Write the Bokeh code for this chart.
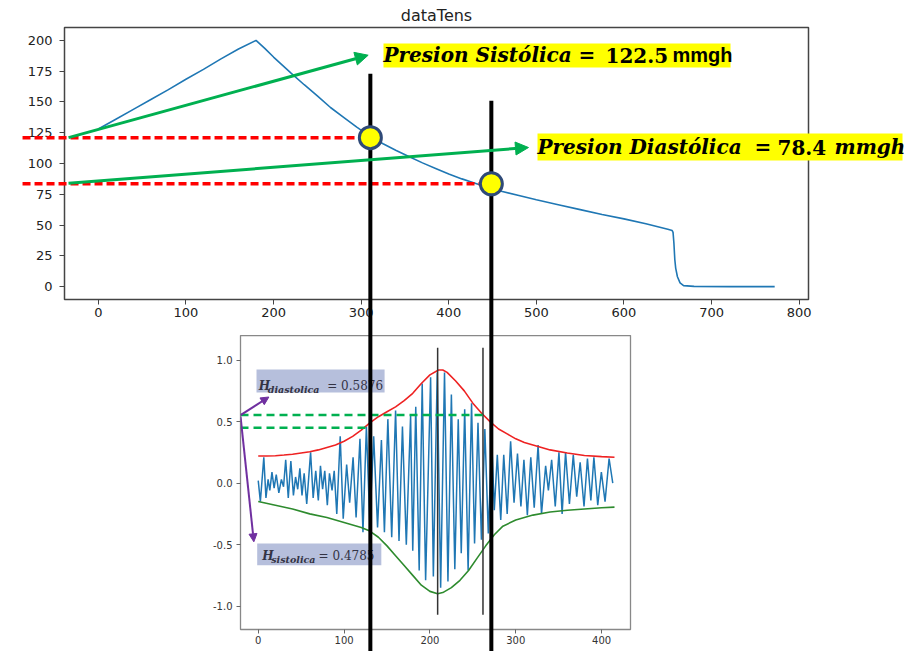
from bokeh.plotting import figure
from bokeh.models import (Range1d, FixedTicker, Arrow, NormalHead, Label, BoxAnnotation,
                          PrintfTickFormatter)
from bokeh.layouts import column
from bokeh.embed import file_html
from bokeh.resources import INLINE

# ---------------- top chart data (cuff pressure, mmHg) ----------------
pres_x = [0, 20, 40, 60, 80, 100, 120, 140, 160, 180, 190, 200, 210, 220, 235, 250, 265, 280,
          295, 310, 325, 340, 355, 370, 385, 400, 415, 430, 445, 460, 480, 500, 525, 550, 575,
          600, 625, 650, 655, 656, 657, 658, 659, 661, 664, 668, 680, 720, 772]
pres_y = [128, 136, 144, 152, 160, 168.5, 176.5, 185, 193, 200, 193.5, 186.5, 180, 173.5, 164,
          155, 145.5, 137.5, 129.5, 122, 116, 110.5, 105.5, 100.5, 96, 91.5, 87.5, 84, 80.5,
          77.5, 74, 70.5, 66.5, 62.5, 58.5, 55, 51, 46.5, 45.5, 44, 35, 22, 15, 8, 3, 0.8,
          0.2, 0, 0]
top_xticks = [0, 100, 200, 300, 400, 500, 600, 700, 800]
top_yticks = [0, 25, 50, 75, 100, 125, 150, 175, 200]

# annotation values (top chart units)
sys_pt = (310.5, 121.0)
dia_pt = (448.6, 83.5)
sys_text = ["Presion Sistólica", "=", "122.5", "mmgh"]
dia_text = ["Presion Diastólica", "=", "78.4", "mmgh"]

# ---------------- bottom chart data (oscillation signal) ----------------
sig_x = [0, 2.5, 6.5, 9, 11.5, 13.5, 16, 18.5, 21, 24, 27, 29.5, 32, 35, 38, 41, 43.5, 46,
         48.5, 51, 53.5, 56.5, 61, 64, 67, 70, 72.5, 75, 77.5, 80.5, 83, 86, 88.5, 91.5, 95.5,
         99, 103, 106.5, 110.5, 114, 118.5, 122, 126, 130, 134.5, 139, 143.5, 147, 151, 155.5,
         160, 164, 168, 172.5, 177.5, 180, 183.5, 187.5, 191, 195, 200.8, 204, 208.5, 212.5,
         217, 221, 225, 229, 233, 236.5, 240.5, 244.5, 248.5, 252, 256, 260, 264, 268, 272,
         275, 278.5, 282.5, 286, 290, 294, 298, 302, 306, 309.5, 313.5, 317.5, 321.5, 326, 330,
         334.8, 338, 341.8, 346, 350.3, 354, 358, 362.5, 367, 371, 375, 379.5, 383.5, 387.5,
         391, 395.5, 399.7, 404, 408.7, 413]
sig_y = [0.02, -0.15, 0.21, -0.12, 0.03, -0.06, 0.09, -0.04, 0.07, -0.08, 0.03, -0.03, 0.19,
         -0.12, 0.18, -0.10, 0.05, -0.05, 0.12, -0.10, 0.08, -0.17, 0.25, -0.12, 0.10, -0.14,
         0.14, -0.05, 0.10, -0.18, 0.08, -0.06, 0.10, -0.25, 0.38, -0.29, 0.15, -0.16, 0.21,
         -0.28, 0.36, -0.40, 0.46, -0.33, 0.38, -0.36, 0.35, -0.40, 0.52, -0.44, 0.59, -0.47,
         0.46, -0.50, 0.55, -0.55, 0.62, -0.71, 0.81, -0.79, 0.86, -0.76, 0.90, -0.85, 0.90,
         -0.80, 0.72, -0.70, 0.52, -0.57, 0.60, -0.71, 0.65, -0.49, 0.49, -0.46, 0.44, -0.41,
         0.35, -0.22, 0.23, -0.30, 0.23, -0.25, 0.34, -0.16, 0.24, -0.19, 0.19, -0.26, 0.21,
         -0.20, 0.31, -0.25, 0.14, -0.06, 0.19, -0.19, 0.25, -0.25, 0.25, -0.17, 0.23, -0.11,
         0.17, -0.19, 0.20, -0.14, 0.21, -0.18, 0.09, -0.15, 0.20, 0.0]
env_up_x = [0, 10, 20, 30, 40, 50, 60, 70, 80, 90, 100, 110, 120, 130, 140, 150, 160, 170, 180,
            190, 200, 210, 215, 220, 230, 240, 250, 260, 270, 280, 290, 300, 310, 320, 340,
            360, 380, 400, 415]
env_up_y = [0.22, 0.22, 0.222, 0.228, 0.235, 0.245, 0.255, 0.27, 0.29, 0.31, 0.34, 0.38, 0.43,
            0.49, 0.54, 0.58, 0.62, 0.67, 0.73, 0.81, 0.88, 0.92, 0.92, 0.90, 0.83, 0.75, 0.65,
            0.57, 0.50, 0.44, 0.40, 0.36, 0.33, 0.31, 0.27, 0.245, 0.225, 0.215, 0.21]
env_lo_x = [0, 20, 40, 60, 80, 100, 120, 130, 140, 150, 160, 170, 180, 190, 200, 209, 215, 225,
            235, 245, 255, 265, 275, 285, 300, 320, 340, 360, 380, 400, 415]
env_lo_y = [-0.15, -0.18, -0.21, -0.25, -0.28, -0.32, -0.36, -0.39, -0.44, -0.51, -0.59, -0.67,
            -0.75, -0.83, -0.88, -0.90, -0.89, -0.85, -0.79, -0.71, -0.61, -0.51, -0.42, -0.35,
            -0.30, -0.26, -0.235, -0.22, -0.21, -0.20, -0.195]
bot_xticks = [0, 100, 200, 300, 400]
bot_yticks = [-1.0, -0.5, 0.0, 0.5, 1.0]
peak_marks_x = [209, 261.8]
h_dia = 0.553
h_sis = 0.45
h_dia_end = 262
h_sis_end = 127
h_dia_text = ["H", "diastolica", "= 0.5876"]
h_sis_text = ["H", "sistolica", "= 0.4785"]

GREEN = "#00b050"
RED = "#ff0000"
PURPLE = "#7030a0"
YELLOW = "#ffff00"
SERIF = "DejaVu Serif"

# ---------------- layout geometry ----------------
W, H = 911, 651
TOP_H = 335
TL, TR, TT, TB = 64, 103, 27, 36
top_xr = (-38.6, 810.6)
top_yr = (-10.5, 210.5)

# ====================== top figure ======================
top = figure(width=W, height=TOP_H, x_range=Range1d(*top_xr), y_range=Range1d(*top_yr),
             output_backend="svg", toolbar_location=None, min_border_left=TL,
             min_border_right=TR, min_border_top=TT, min_border_bottom=TB, frame_align=False)
top.title.text = "dataTens"
top.title.align = "center"
top.title.text_font = "DejaVu Sans"
top.title.text_font_style = "normal"
top.title.text_font_size = "16px"
top.title.text_color = "#222222"
top.title.standoff = 5
top.grid.visible = False
top.outline_line_color = "#444444"
top.outline_line_width = 1.5
top.border_fill_color = "white"
top.xaxis.ticker = FixedTicker(ticks=top_xticks)
top.yaxis.ticker = FixedTicker(ticks=top_yticks)
for ax in top.axis:
    ax.axis_line_color = None
    ax.major_tick_in = 0
    ax.major_tick_out = 5
    ax.minor_tick_line_color = None
    ax.major_tick_line_color = "#444444"
    ax.major_label_text_font = "DejaVu Sans"
    ax.major_label_text_font_size = "13px"
    ax.major_label_text_color = "#222222"
top.yaxis.major_label_standoff = 7
top.xaxis.major_label_standoff = 3
top.line(pres_x, pres_y, color="#1f77b4", line_width=1.6)

# ====================== bottom figure ======================
bot = figure(width=W, height=H - TOP_H, x_range=Range1d(-20.65, 433.65),
             y_range=Range1d(-1.19, 1.2), output_backend="svg", toolbar_location=None,
             min_border_left=240, min_border_right=281, min_border_top=0, min_border_bottom=22,
             frame_align=False)
bot.grid.visible = False
bot.outline_line_color = "#888888"
bot.outline_line_width = 1.3
bot.border_fill_color = "white"
bot.xaxis.ticker = FixedTicker(ticks=bot_xticks)
bot.yaxis.ticker = FixedTicker(ticks=bot_yticks)
bot.yaxis.formatter = PrintfTickFormatter(format="%.1f")
for ax in bot.axis:
    ax.axis_line_color = None
    ax.major_tick_in = 0
    ax.major_tick_out = 4
    ax.minor_tick_line_color = None
    ax.major_tick_line_color = "#666666"
    ax.major_label_text_font = "DejaVu Sans"
    ax.major_label_text_font_size = "10px"
    ax.major_label_text_color = "#333333"
bot.yaxis.major_label_standoff = 4
bot.xaxis.major_label_standoff = 2

bot.line(sig_x, sig_y, color="#1f77b4", line_width=1.5)
bot.line(env_up_x, env_up_y, color="#ee2222", line_width=1.6)
bot.line(env_lo_x, env_lo_y, color="#2e8b2e", line_width=1.6)
bot.segment(x0=peak_marks_x, y0=[1.10, 1.10], x1=peak_marks_x, y1=[-1.07, -1.07],
            color="#333333", line_width=1.5)
bot.segment(x0=[-20.65, -20.65], y0=[h_dia, h_sis], x1=[h_dia_end, h_sis_end], y1=[h_dia, h_sis],
            color=GREEN, line_width=2.5, line_dash="8 5")

bot.add_layout(BoxAnnotation(left=-2.0, right=147.2, top=0.924, bottom=0.737,
                             fill_color="#b6bfdc", fill_alpha=1.0, line_color=None))
bot.add_layout(BoxAnnotation(left=-1.2, right=143.4, top=-0.490, bottom=-0.667,
                             fill_color="#b6bfdc", fill_alpha=1.0, line_color=None))

def add_h(fig, x, y, texts, eq_dx):
    fig.add_layout(Label(x=x, y=y, text=texts[0], text_font=SERIF,
                         text_font_style="bold italic", text_font_size="12px",
                         text_color="#333344", text_baseline="alphabetic"))
    fig.add_layout(Label(x=x, y=y, x_offset=9, y_offset=-3, text=texts[1], text_font=SERIF,
                         text_font_style="bold italic", text_font_size="9.5px",
                         text_color="#333344", text_baseline="alphabetic"))
    fig.add_layout(Label(x=x, y=y, x_offset=eq_dx, text=texts[2], text_font=SERIF,
                         text_font_style="normal", text_font_size="12px",
                         text_color="#333344", text_baseline="alphabetic"))

add_h(bot, 0.7, 0.789, h_dia_text, 68.4)
add_h(bot, 4.7, -0.593, h_sis_text, 56.3)

bot.add_layout(Arrow(end=NormalHead(size=8, fill_color=PURPLE, line_color=PURPLE),
                     x_start=-20.6, y_start=0.553, x_end=12.4, y_end=0.70,
                     line_color=PURPLE, line_width=2))
bot.add_layout(Arrow(end=NormalHead(size=8, fill_color=PURPLE, line_color=PURPLE),
                     x_start=-20.6, y_start=0.54, x_end=-5.1, y_end=-0.477,
                     line_color=PURPLE, line_width=2))

# ====================== transparent overlay (top-chart units, whole page) ======================
kx = (W - TL - TR) / (top_xr[1] - top_xr[0])
ky = (TOP_H - TT - TB) / (top_yr[1] - top_yr[0])
ov_xr = (top_xr[0] - TL / kx, top_xr[1] + TR / kx)
ov_yr = (top_yr[0] - (H - TOP_H + TB) / ky, top_yr[1] + TT / ky)

ov = figure(width=W, height=H, x_range=Range1d(*ov_xr), y_range=Range1d(*ov_yr),
            output_backend="svg", toolbar_location=None, x_axis_type=None, y_axis_type=None,
            min_border=0, outline_line_color=None, background_fill_alpha=0,
            border_fill_alpha=0)
ov.grid.visible = False
ov.styles = {"position": "absolute", "top": "0px", "left": "0px"}

# red dashed level lines
ov.segment(x0=[-86.5, -86.5], y0=[sys_pt[1], dia_pt[1]], x1=[sys_pt[0], dia_pt[0]],
           y1=[sys_pt[1], dia_pt[1]], color=RED, line_width=3.5, line_dash="8 4")
# green arrows
ov.add_layout(Arrow(end=NormalHead(size=13, fill_color=GREEN, line_color=GREEN),
                    x_start=-34, y_start=121, x_end=308, y_end=188,
                    line_color=GREEN, line_width=3))
ov.add_layout(Arrow(end=NormalHead(size=13, fill_color=GREEN, line_color=GREEN),
                    x_start=-34, y_start=84, x_end=491, y_end=113,
                    line_color=GREEN, line_width=3))
# thick black verticals through both charts
ov.segment(x0=[sys_pt[0], dia_pt[0]], y0=[173, 151], x1=[sys_pt[0], dia_pt[0]],
           y1=[ov_yr[0], ov_yr[0]], color="black", line_width=4)
# yellow markers
mk = ov.scatter([sys_pt[0], dia_pt[0]], [sys_pt[1], dia_pt[1]], size=22, fill_color=YELLOW,
                line_color="#2f4a78", line_width=3)
mk.level = "overlay"

# highlighted labels
ov.quad(left=[325.5, 501.3], right=[721.6, 917.9], top=[197.5, 124.4], bottom=[178.0, 102.4],
        fill_color=YELLOW, line_color=None)

def add_parts(fig, x, y, parts):
    for text, dx, font, style in parts:
        fig.add_layout(Label(x=x, y=y, x_offset=dx, text=text, text_font=font,
                             text_font_style=style, text_font_size="20px", text_color="black",
                             text_baseline="middle", text_align="left"))

add_parts(ov, 325.5, 187.8, [(sys_text[0], 0, SERIF, "bold italic"),
                             (sys_text[1], 195, SERIF, "bold"),
                             (sys_text[2], 222, SERIF, "bold"),
                             (sys_text[3], 289, "Liberation Sans", "bold")])
add_parts(ov, 501.3, 113.4, [(dia_text[0], 0, SERIF, "bold italic"),
                             (dia_text[1], 217, SERIF, "bold"),
                             (dia_text[2], 240, SERIF, "bold"),
                             (dia_text[3], 297, SERIF, "bold italic")])

layout = column(top, bot, spacing=0)
open("out.html", "w").write(file_html([layout, ov], INLINE))
